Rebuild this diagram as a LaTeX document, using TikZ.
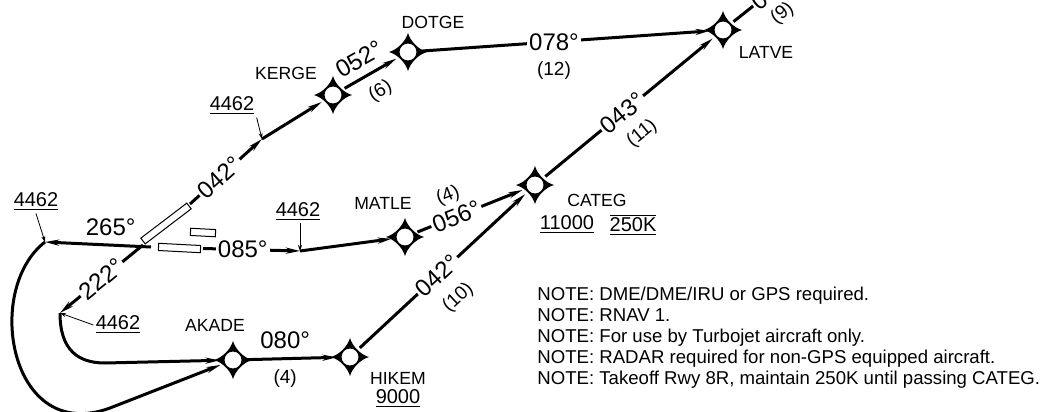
\documentclass[tikz,border=0pt]{standalone}
\usepackage{fontspec}
\setmainfont{Liberation Sans}
\usetikzlibrary{arrows.meta,positioning}

\tikzset{
  route/.style={line width=1.5pt},
  fix/.style={circle,minimum size=13pt,inner sep=0pt},
  wpt/.style={font=\fontsize{8.8}{10}\selectfont,inner sep=1pt},
  alt/.style={font=\fontsize{10}{12}\selectfont,inner sep=1pt},
  hdg/.style={font=\fontsize{12}{14}\selectfont,fill=white,inner sep=1pt},
  dist/.style={font=\fontsize{9.5}{11}\selectfont,inner sep=1pt},
  lead/.style={line width=0.4pt,-{Stealth[length=3pt,width=2pt]}},
  rwy/.style={draw,line width=0.5pt,fill=white,inner sep=0pt,minimum height=3.6pt},
  note/.style={font=\fontsize{9.3}{10.5}\selectfont,align=left,anchor=north west,inner sep=0pt}
}

\begin{document}
\begin{tikzpicture}[x=0.5pt,y=-0.5pt,>={Stealth[length=7pt,width=3pt]}]
  \useasboundingbox (0,0) rectangle (1055,412);
  % fixes
  \node[fix] (KERGE) at (333,95)  {};
  \node[fix] (DOTGE) at (408,52)  {};
  \node[fix] (LATVE) at (723,30)  {};
  \node[fix] (CATEG) at (535,185) {};
  \node[fix] (MATLE) at (405,237) {};
  \node[fix] (HIKEM) at (350,357) {};
  \node[fix] (AKADE) at (233,360) {};
  \foreach \f in {KERGE,DOTGE,LATVE,CATEG,MATLE,HIKEM,AKADE}
    \fill[even odd rule,shift={(\f.center)}] (0,-19) .. controls (2.5,-10.5) and (10.5,-2.5) .. (19,0)
      .. controls (10.5,2.5) and (2.5,10.5) .. (0,19) .. controls (-2.5,10.5) and (-10.5,2.5) .. (-19,0)
      .. controls (-10.5,-2.5) and (-2.5,-10.5) .. (0,-19) -- cycle (0,0) circle (8.5);
  % runways
  \node[rwy,minimum width=28.9pt,rotate=37.3] (r04) at (166,223.5) {};
  \node[rwy,minimum width=21pt,rotate=-3] (r08) at (179.5,248) {};
  \node[rwy,minimum width=12.5pt,rotate=-3] (r17) at (203,232.5) {};
  \coordinate (rw04) at (190,204);
  \coordinate (rw22) at (143,245);
  \coordinate (rw08) at (203,248.5);
  \coordinate (rw26) at (151,247);
  \coordinate (p1) at (262,139);
  \coordinate (p2) at (300,251);
  \coordinate (p3) at (45,242);
  \coordinate (p4) at (60,313);
  \coordinate (exit) at (850,-71);
  % routes
  \draw[route,->] (rw04) -- node[hdg,sloped,pos=0.41] {042°} (p1);
  \draw[route,->] (p1) -- (KERGE);
  \draw[route,->] (KERGE) -- node[hdg,sloped,pos=0.45,above=3pt] {052°}
    node[dist,sloped,pos=0.5,below=4pt] {(6)} (DOTGE);
  \draw[route,->] (DOTGE) -- node[hdg,pos=0.46] {078°}
    node[dist,pos=0.46,below=8pt] {(12)} (LATVE);
  \draw[route] (LATVE) -- node[hdg,sloped,pos=0.35] {043°}
    node[dist,sloped,pos=0.29,below=6pt] {(9)} (exit);
  \draw[route,->] (CATEG) -- node[hdg,sloped,pos=0.46] {043°}
    node[dist,sloped,pos=0.47,below=8pt] {(11)} (LATVE);
  \draw[route,->] (MATLE) -- node[hdg,sloped,pos=0.37] {056°}
    node[dist,sloped,pos=0.37,above=5pt] {(4)} (CATEG);
  \draw[route,->] (HIKEM) -- node[hdg,sloped,pos=0.47] {042°}
    node[dist,sloped,pos=0.47,below=9pt] {(10)} (CATEG);
  \draw[route,->] (rw08) -- node[hdg,pos=0.41] {085°} (p2);
  \draw[route,->] (p2) -- (MATLE);
  \draw[route,->] (rw26) -- node[hdg,pos=0.38,above=3pt] {265°} (p3);
  \draw[route,->] (rw22) -- node[hdg,sloped,pos=0.5] {222°} (p4);
  \draw[route,->] (p3) .. controls (-17,290) and (10,445) .. (110,408) -- (AKADE);
  \draw[route,->] (p4) .. controls (60,350) and (78,363) .. (105,363) -- (AKADE);
  \draw[route,->] (AKADE) -- node[hdg,pos=0.43,above=3pt] {080°}
    node[dist,pos=0.43,below=4pt] {(4)} (HIKEM);
  % names and altitudes
  \node[wpt] (KERGEl) at (286,73)  {KERGE};
  \node[wpt] (DOTGEl) at (433,22)  {DOTGE};
  \node[wpt] (LATVEl) at (766,52)  {LATVE};
  \node[wpt] (MATLEl) at (383,203) {MATLE};
  \node[wpt] (CATEGl) at (597,200) {CATEG};
  \node[alt] (CATEGa) at (567,225) {\underline{11000}};
  \node[alt] (CATEGs) at (633,225) {$\underline{\overline{\mbox{250K}}}$};
  \node[wpt] (AKADEl) at (215,325) {AKADE};
  \node[wpt] (HIKEMl) at (398,378) {HIKEM};
  \node[alt] (HIKEMa) at (398,399) {\underline{9000}};
  \node[alt] (k4462) at (232,106) {\underline{4462}};
  \node[alt] (m4462) at (298,212) {\underline{4462}};
  \node[alt] (w4462) at (36,202)  {\underline{4462}};
  \node[alt] (s4462) at (118,325) {\underline{4462}};
  \draw[lead] (k4462.south east) -- (p1);
  \draw[lead] (m4462.south -| p2) -- (p2);
  \draw[lead] (w4462.south) -- (p3);
  \draw[lead] (s4462.west) -- (p4);
  % notes
  \node[note] (notes) at (537,287) {NOTE: DME/DME/IRU or GPS required.\\
    NOTE: RNAV 1.\\
    NOTE: For use by Turbojet aircraft only.\\
    NOTE: RADAR required for non-GPS equipped aircraft.\\
    NOTE: Takeoff Rwy 8R, maintain 250K until passing CATEG.};
\end{tikzpicture}
\end{document}
